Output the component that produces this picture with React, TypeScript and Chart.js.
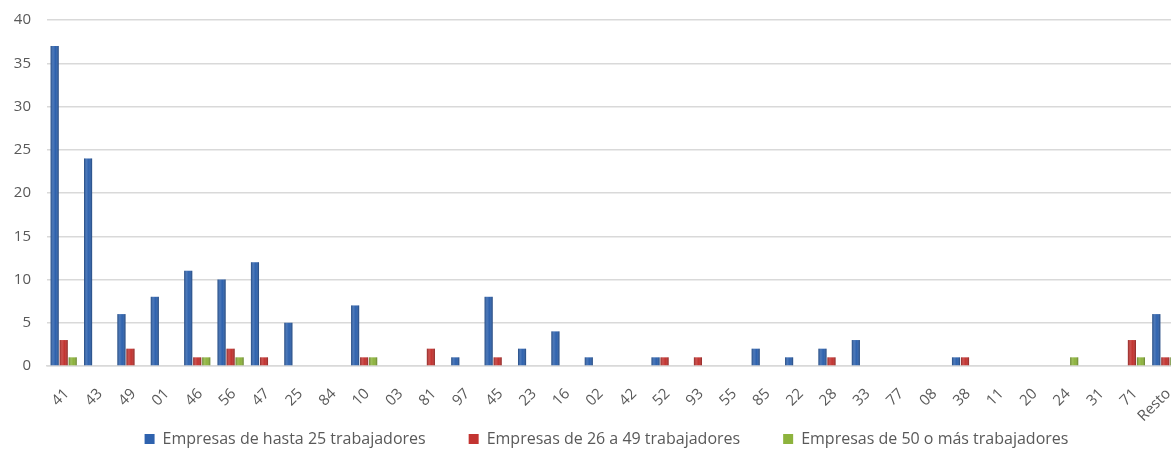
import React, { useEffect, useRef } from "react";
import { Chart, registerables } from "chart.js";

Chart.register(...registerables);

const categories = ["41", "43", "49", "01", "46", "56", "47", "25", "84", "10", "03", "81", "97", "45", "23", "16", "02", "42", "52", "93", "55", "85", "22", "28", "33", "77", "08", "38", "11", "20", "24", "31", "71", "Resto"];
const hasta25 = [37, 24, 6, 8, 11, 10, 12, 5, 0, 7, 0, 0, 1, 8, 2, 4, 1, 0, 1, 0, 0, 2, 1, 2, 3, 0, 0, 1, 0, 0, 0, 0, 0, 6];
const de26a49 = [3, 0, 2, 0, 1, 2, 1, 0, 0, 1, 0, 2, 0, 1, 0, 0, 0, 0, 1, 1, 0, 0, 0, 1, 0, 0, 0, 1, 0, 0, 0, 0, 3, 1];
const mas50 = [1, 0, 0, 0, 1, 1, 0, 0, 0, 1, 0, 0, 0, 0, 0, 0, 0, 0, 0, 0, 0, 0, 0, 0, 0, 0, 0, 0, 0, 0, 1, 0, 1, 1];
const seriesLabels = ["Empresas de hasta 25 trabajadores", "Empresas de 26 a 49 trabajadores", "Empresas de 50 o más trabajadores"];
const yTicks = [0, 5, 10, 15, 20, 25, 30, 35, 40];

const FONT = "'Open Sans', sans-serif";
const TEXT = "#595959";

const layoutTweaks = {
  id: "layoutTweaks",
  afterLayout(chart: any) {
    const x = chart.scales.x;
    x.bottom = x.top + 80;
    if (chart.legend) {
      chart.legend.left -= 8;
      chart.legend.right -= 8;
    }
  },
};

const barSheen = {
  id: "barSheen",
  afterDatasetsDraw(chart: any) {
    const ctx = chart.ctx;
    chart.data.datasets.forEach((_: any, di: number) => {
      const meta = chart.getDatasetMeta(di);
      meta.data.forEach((el: any) => {
        const { x, y, base, width } = el.getProps(["x", "y", "base", "width"], true);
        const h = base - y;
        if (!(h > 0.5)) return;
        const l = x - width / 2;
        const g = ctx.createLinearGradient(l, 0, l + width, 0);
        g.addColorStop(0, "rgba(0,0,0,0.28)");
        g.addColorStop(0.3, "rgba(255,255,255,0.14)");
        g.addColorStop(0.6, "rgba(255,255,255,0.0)");
        g.addColorStop(1, "rgba(0,0,0,0.3)");
        ctx.save();
        ctx.fillStyle = g;
        ctx.fillRect(l, y, width, h);
        ctx.restore();
      });
    });
  },
};

export default function App() {
  const ref = useRef<HTMLCanvasElement | null>(null);
  useEffect(() => {
    if (!ref.current) return;
    const chart = new Chart(ref.current, {
      type: "bar",
      data: {
        labels: categories,
        datasets: [
          { label: seriesLabels[0], data: hasta25, backgroundColor: "#2E62AE", borderWidth: 0 },
          { label: seriesLabels[1], data: de26a49, backgroundColor: "#C33431", borderWidth: 0 },
          { label: seriesLabels[2], data: mas50, backgroundColor: "#8DB33D", borderWidth: 0 },
        ],
      },
      options: {
        animation: false,
        responsive: false,
        devicePixelRatio: 1,
        layout: { padding: { top: 20, right: 28, left: 0, bottom: 3 } },
        datasets: { bar: { categoryPercentage: 0.81, barPercentage: 0.9 } },
        scales: {
          x: {
            grid: { display: false, drawTicks: false },
            border: { display: true, color: "#D9D9D9", width: 1.5 },
            ticks: { color: TEXT, font: { family: FONT, size: 15 }, maxRotation: 45, minRotation: 45, autoSkip: false, padding: 19, labelOffset: 3 },
            afterFit: (s: any) => { s.height = 22; s.paddingLeft = 0; s.paddingRight = 0; },
          },
          y: {
            min: 0,
            max: 40,
            afterBuildTicks: (s: any) => { s.ticks = yTicks.map((v) => ({ value: v })); },
            grid: { color: "#D9D9D9", lineWidth: 1.5, drawTicks: false },
            border: { display: false },
            ticks: { color: TEXT, font: { family: FONT, size: 15 }, padding: 16 },
            afterFit: (s: any) => { s.width = 47; s.paddingTop = 0; s.paddingBottom = 0; },
          },
        },
        plugins: {
          legend: {
            position: "bottom",
            fullSize: false,
            labels: { boxWidth: 10, boxHeight: 10, padding: 43, color: TEXT, font: { family: FONT, size: 16 } },
          },
          tooltip: { enabled: false },
        },
      },
      plugins: [layoutTweaks, barSheen],
    });
    return () => chart.destroy();
  }, []);
  return (
    <div style={{ position: "fixed", left: 0, top: 0, width: 1171, height: 460, overflow: "hidden", background: "#fff" }}>
      <canvas ref={ref} width={1210} height={460} style={{ display: "block" }} />
    </div>
  );
}
